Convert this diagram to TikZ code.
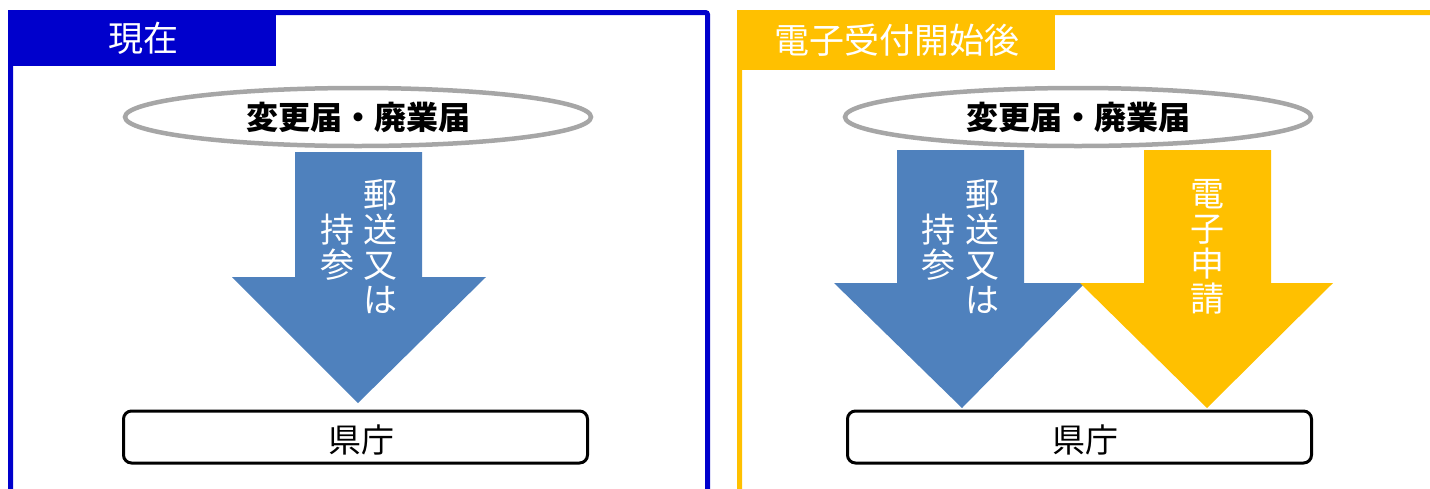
\documentclass[tikz,border=0pt]{standalone}
\usepackage{fontspec}
\newfontfamily\jp{Noto Sans CJK JP}
\usepackage{tikz}
\usetikzlibrary{shapes.geometric}
\definecolor{nowblue}{HTML}{0000CC}
\definecolor{eyellow}{HTML}{FFC000}
\definecolor{arrblue}{HTML}{4F81BD}
\definecolor{rimgray}{HTML}{A6A6A6}

\begin{document}
\begin{tikzpicture}[x=1pt,y=-1pt,
  tate/.style={text=white,align=center,inner sep=0pt,font=\jp\fontsize{34}{35}\selectfont},
  tab/.style={text=white,inner sep=0pt,font=\jp\fontsize{35}{40}\selectfont},
  form/.style={ellipse,draw=rimgray,line width=4.5pt,fill=white,inner sep=0pt,
    minimum width=466pt,minimum height=58pt,font=\jp\bfseries\fontsize{32}{36}\selectfont},
  office/.style={draw,line width=3pt,rounded corners=8pt,inner sep=0pt,
    minimum width=464pt,minimum height=52pt}]
\useasboundingbox (0,0) rectangle (1430,488);
\draw[nowblue,line width=5pt,rounded corners=2pt] (10.5,500) -- (10.5,12.5) -- (707.5,12.5) -- (707.5,500);
\fill[nowblue] (8,10) rectangle (276,66);
\draw[eyellow,line width=5pt,rounded corners=2pt] (739.5,500) -- (739.5,12.5) -- (1440,12.5);
\fill[eyellow] (737,10) rectangle (1055,70);
\node[tab] (now) at (143,38) {現在};
\node[tab] (after) at (897,40) {電子受付開始後};
\node[form] (form1) at (358,117) {変更届・廃業届};
\node[form] (form2) at (1078,117) {変更届・廃業届};
\fill[arrblue] (295,152) -- (422,152) -- (422,277) -- (486,277) -- (358,403) -- (232,277) -- (295,277) -- cycle;
\fill[arrblue] (897,150) -- (1024,150) -- (1024,283) -- (1085,283) -- (962,408) -- (834,283) -- (897,283) -- cycle;
\fill[eyellow] (1144,150) -- (1271,150) -- (1271,283) -- (1333,283) -- (1207,408) -- (1080,283) -- (1144,283) -- cycle;
\node[tate] (post1) at (380,247) {郵\\送\\又\\は};
\node[tate] (bring1) at (337,247) {持\\参};
\node[tate] (post2) at (982,247) {郵\\送\\又\\は};
\node[tate] (bring2) at (938,247) {持\\参};
\node[tate] (online) at (1207,247) {電\\子\\申\\請};
\node[office] (pref1) at (355.5,437) {};
\node[office] (pref2) at (1079.5,437) {};
\node[font=\jp\fontsize{33}{36}\selectfont] (pref1txt) at (361,440) {県庁};
\node[font=\jp\fontsize{33}{36}\selectfont] (pref2txt) at (1085,440) {県庁};
\end{tikzpicture}
\end{document}
